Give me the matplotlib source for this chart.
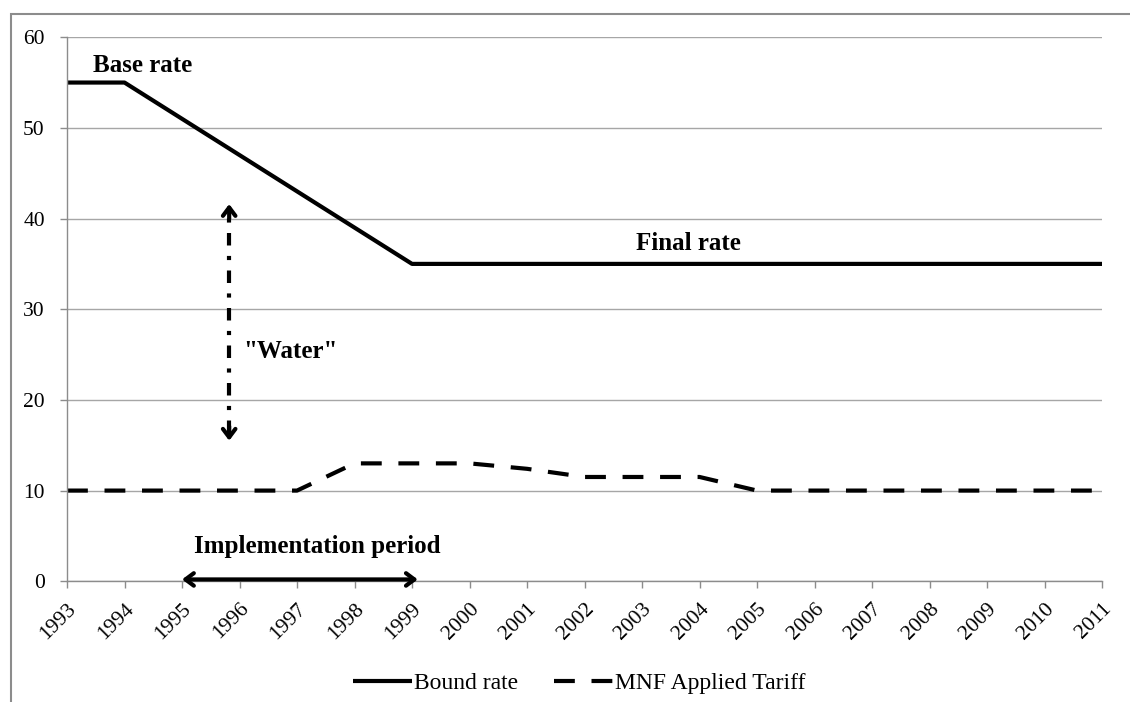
import matplotlib.pyplot as plt
from matplotlib.patches import Rectangle

# Data
years = list(range(1993, 2012))
bound_rate = [55, 55, 51, 47, 43, 39, 35, 35, 35, 35, 35, 35, 35, 35, 35, 35, 35, 35, 35]
mnf_tariff = [10, 10, 10, 10, 10, 13, 13, 13, 12.4, 11.5, 11.5, 11.5, 10, 10, 10, 10, 10, 10, 10]
y_ticks = [0, 10, 20, 30, 40, 50, 60]

plt.rcParams['font.family'] = ['Liberation Serif', 'DejaVu Serif']

fig = plt.figure(figsize=(11.3, 7.02), dpi=100)
ax = fig.add_axes([0.0593, 0.172, 0.916, 0.775])

# Outer chart border (cropped on the right and bottom)
fig.patches.append(Rectangle((11 / 1130, -0.05), 1.2, 1 - 14 / 702 + 0.05,
                             transform=fig.transFigure, fill=False,
                             edgecolor='#8c8c8c', lw=1.5, clip_on=False))

ax.plot(years, bound_rate, color='black', lw=3, label='Bound rate', solid_capstyle='butt')
ax.plot(years, mnf_tariff, color='black', lw=3, linestyle=(0, (5, 4)), label='MNF Applied Tariff')

ax.set_xlim(1993, 2011)
ax.set_ylim(0, 60)
ax.set_xticks(years)
ax.set_xticklabels([str(y) for y in years], rotation=45, ha='right', rotation_mode='anchor')
ax.set_yticks(y_ticks)
ax.tick_params(axis='both', labelsize=15.5, colors='#8c8c8c', labelcolor='black', length=5, width=1)
ax.tick_params(axis='x', pad=8)
ax.tick_params(axis='y', pad=11)

ax.grid(axis='y', color='#a6a6a6', lw=1)
ax.set_axisbelow(True)
for side in ['top', 'right']:
    ax.spines[side].set_visible(False)
for side in ['left', 'bottom']:
    ax.spines[side].set_color('#8c8c8c')
    ax.spines[side].set_linewidth(1)

# Annotations
ax.text(1994.32, 56.9, 'Base rate', fontsize=18, fontweight='bold', ha='center', va='center')
ax.text(2003.8, 37.3, 'Final rate', fontsize=18, fontweight='bold', ha='center', va='center')
ax.text(1996.06, 25.3, '"Water"', fontsize=18, fontweight='bold', ha='left', va='center')
ax.text(1997.35, 3.8, 'Implementation period', fontsize=18, fontweight='bold', ha='center', va='center')

# "Water" dash-dot arrow with solid open heads
wx = 1995.82
head = dict(arrowstyle='->,head_length=0.6,head_width=0.45', color='black', lw=3,
            shrinkA=0, shrinkB=0)
ax.plot([wx, wx], [16.3, 40.8], color='black', lw=3, linestyle=(0, (3, 2.5, 1, 2.5)))
ax.annotate('', xy=(wx, 41.6), xytext=(wx, 40.0), arrowprops=head)
ax.annotate('', xy=(wx, 15.5), xytext=(wx, 17.1), arrowprops=head)

# Implementation period arrow
ax.annotate('', xy=(1995.0, 0.2), xytext=(1999.1, 0.2),
            arrowprops=dict(arrowstyle='<->,head_length=0.6,head_width=0.45', color='black', lw=3,
                            shrinkA=0, shrinkB=0), annotation_clip=False)

fig.legend(loc='center left', bbox_to_anchor=(353 / 1130, 0.027), ncol=2, frameon=False,
           fontsize=17, borderpad=0, borderaxespad=0, handlelength=2.5,
           handletextpad=0.1, columnspacing=1.5)

fig.savefig('out.png', dpi=100)
